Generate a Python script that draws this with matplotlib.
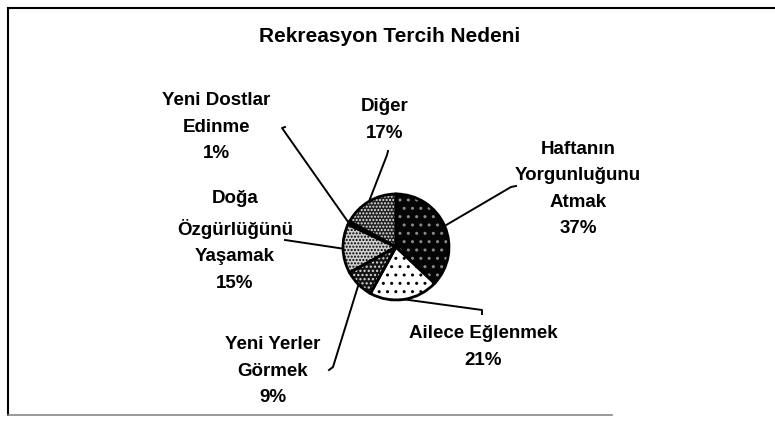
import matplotlib.pyplot as plt
import numpy as np

plt.rcParams['font.family'] = ['Liberation Sans', 'DejaVu Sans']
plt.rcParams['hatch.linewidth'] = 1.0

# data
categories = ['Haftanın\nYorgunluğunu\nAtmak', 'Ailece Eğlenmek', 'Yeni Yerler\nGörmek',
              'Doğa\nÖzgürlüğünü\nYaşamak', 'Yeni Dostlar\nEdinme', 'Diğer']
values = [37, 21, 9, 15, 1, 17]
title = 'Rekreasyon Tercih Nedeni'

# styles per slice: face, hatch, hatch colour
faces = ['#050505', 'white', '#151515', '#d0d0d0', '#111111', '#202020']
hatches = ['..', '..', '....', '.....', '', '.....']
hcols = ['#8a8a8a', 'black', '#dddddd', 'black', 'black', '#e8e8e8']

# layout in pixels (y measured from top)
W, H = 775, 425
pie_c = (396, 247)
pie_r = 53
label_xy = [(578, 189), (483, 347), (273, 371), (235, 241), (216, 127), (385, 120)]
leader_end = [(511, 187), (482, 310), (333, 367), (285, 240), (282, 128), (387, 155)]
leader_hook = [(516, 186), (482, 314), (329, 370), None, (285, 127), (388, 151)]


def Y(py):
    return H - py


fig = plt.figure(figsize=(7.75, 4.25), dpi=100)
ax = fig.add_axes([0, 0, 1, 1])

# hatched wedges
wedges, _ = ax.pie(values, colors=faces, startangle=90, counterclock=False,
                   center=(pie_c[0], Y(pie_c[1])), radius=pie_r, frame=True,
                   wedgeprops=dict(linewidth=0))
for w, h, hc in zip(wedges, hatches, hcols):
    w.set_hatch(h)
    w.set_edgecolor(hc)

# outlines on top
ax.pie(values, colors=['none'] * len(values), startangle=90, counterclock=False,
       center=(pie_c[0], Y(pie_c[1])), radius=pie_r, frame=True,
       wedgeprops=dict(linewidth=2.0, edgecolor='black', fill=False))

# leader lines + labels
for w, cat, v, lxy, le, hk in zip(wedges, categories, values, label_xy, leader_end, leader_hook):
    ang = np.deg2rad((w.theta1 + w.theta2) / 2)
    x0 = pie_c[0] + pie_r * np.cos(ang)
    y0 = Y(pie_c[1]) + pie_r * np.sin(ang)
    xs = [x0, le[0]]
    ys = [y0, Y(le[1])]
    if hk is not None:
        xs.append(hk[0])
        ys.append(Y(hk[1]))
    ax.plot(xs, ys, color='black', lw=1.4)
    ax.text(lxy[0], Y(lxy[1]), f'{cat}\n{v}%', ha='center', va='center',
            fontsize=13.5, fontweight='bold', linespacing=1.72, color='black')

ax.text(390, Y(36), title, ha='center', va='center', fontsize=15,
        fontweight='bold', color='black')

# frame
ax.plot([8, W], [Y(8), Y(8)], color='black', lw=1.5)
ax.plot([8, 8], [Y(8), Y(415)], color='black', lw=1.5)
ax.plot([8, 612], [Y(415), Y(415)], color='#888888', lw=1.2)

ax.set_xlim(0, W)
ax.set_ylim(0, H)
ax.set_aspect('equal')
ax.axis('off')

fig.savefig('out.png', dpi=100)
